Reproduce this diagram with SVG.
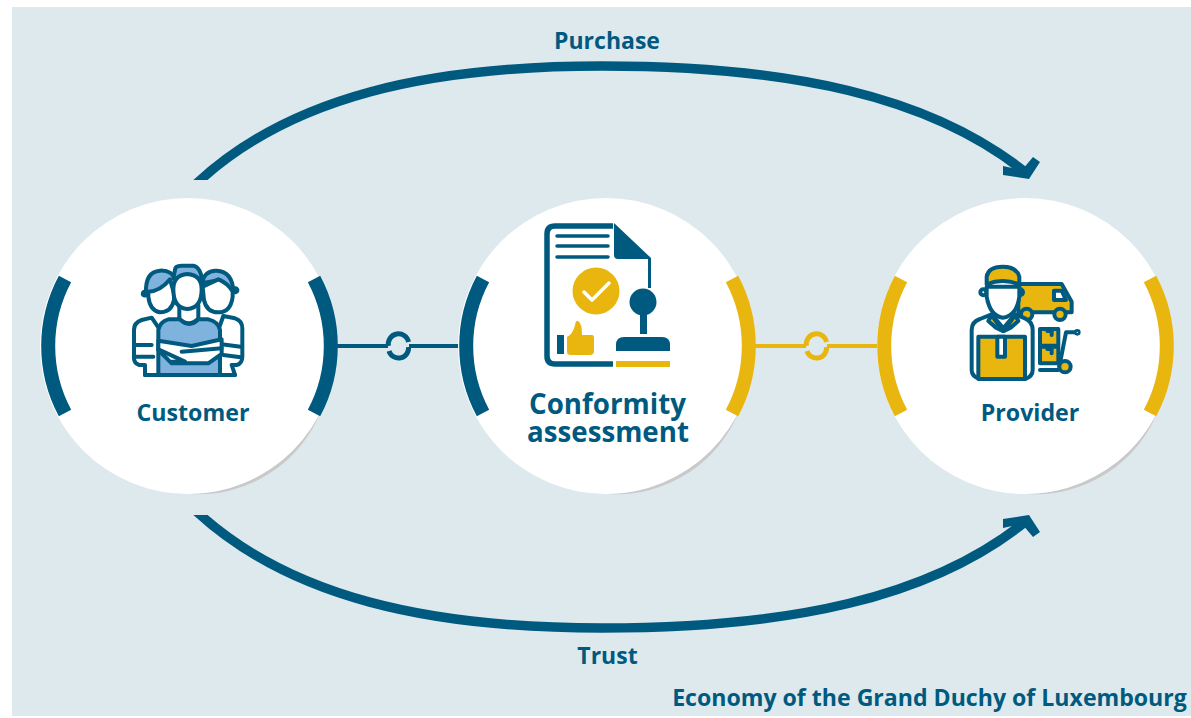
<svg xmlns="http://www.w3.org/2000/svg" width="1191" height="718" viewBox="0 0 1191 718">
<style>
text{font-family:"Open Sans","Noto Sans","Liberation Sans",sans-serif;font-weight:700;fill:#005a7f;text-anchor:middle}
.blue{stroke:#005a7f;fill:none}
.yel{stroke:#e9b60f;fill:none}
.arc{stroke-width:14}
.cn{stroke-width:4}
.ring{stroke-width:5}
.flow{stroke:#005a7f;fill:none;stroke-width:9.500}
.head{fill:#005a7f}
.shade{fill:#c9c9c9}
.ic{stroke:#005a7f;stroke-width:12;stroke-linejoin:round;stroke-linecap:round}
.w{fill:#fff}.lb{fill:#7fb2dd}.y{fill:#e9b60f}.d{fill:#005a7f}.n{fill:none}
</style>
<defs>
<clipPath id="top"><rect x="0" y="0" width="1191" height="180"/></clipPath>
<clipPath id="bot"><rect x="0" y="515" width="1191" height="203"/></clipPath>
</defs>
<rect x="12" y="7" width="1179" height="709" fill="#dee9ee"/>
<g id="connectors">
<path class="flow" clip-path="url(#top)" d="M196 184C290 96 430 66 602 66C790 66 930 96 1025 172"/>
<polygon class="head" points="1003,175 1029,179 1040,162 1033,157 1022,170 1003,166"/>
<path class="flow" clip-path="url(#bot)" d="M196 511C290 598 430 628 602 628C790 628 930 598 1025 522"/>
<polygon class="head" points="1003,519 1029,515 1040,532 1033,537 1022,524 1003,528"/>
<path class="blue cn" d="M336 346H388M409 346H462"/>
<path class="blue ring" d="M388.500 346A10 10 0 0 1 408.500 342"/>
<path class="blue ring" d="M408.500 347A10 10 0 0 1 389 351"/>
<path class="yel cn" d="M754 346H806M827 346H880"/>
<path class="yel ring" d="M806.500 346A10 10 0 0 1 826.500 342"/>
<path class="yel ring" d="M826.500 347A10 10 0 0 1 807 351"/>
</g>
<g id="customer">
<path class="shade" d="M190 494A148 148 0 0 0 322 408.500A132 132 0 0 1 190 494Z"/>
<circle cx="188" cy="346" r="148" fill="#fff"/>
<path class="blue arc" d="M65 279A142 142 0 0 0 65 413M314 279A142 142 0 0 1 314 413"/>
<g class="ic" transform="translate(110 250) scale(.3333)">
<path class="w" d="M105 375V345H88Q72 340 72 325V240Q72 218 95 210L125 203L150 240V375Z"/>
<path class="w" d="M375 375L365 345H380Q397 340 397 320V235Q397 212 375 205L340 198L325 240V375Z"/>
<path class="n" d="M76 285H125M76 320H130M335 283L392 290M340 315L392 322"/>
<path class="w" d="M100 135a6 6 0 1 1 .1 .1ZM372 125a6 6 0 1 1 .1 .1Z"/>
<path class="lb" d="M108 130Q105 65 150 62Q185 60 198 90V125L150 130Z"/>
<path class="w" d="M115 125Q150 125 180 88L192 130V150Q185 187 150 187Q120 182 115 140Z"/>
<path class="lb" d="M275 100Q285 60 320 62Q368 65 370 125L330 90Z"/>
<path class="w" d="M278 110L325 88Q355 100 368 125V140Q362 187 325 187Q290 187 282 150Z"/>
<path class="lb" d="M145 375V240Q150 215 175 208H210Q238 235 265 208H295Q325 215 330 240V375Z"/>
<path class="lb" d="M195 60Q195 47 215 47H250Q275 52 278 105L265 85H190Z"/>
<path class="w" d="M208 165V205Q236 235 265 205V165Z"/>
<path class="w" d="M190 118Q190 75 232 72Q275 75 275 118Q275 175 232 177Q190 175 190 118Z"/>
<path class="w" d="M145 272L245 288L335 268V312L295 340H185L145 300Z"/>
<path class="n" d="M145 298L225 335H185M215 305L335 295M105 375H375"/>
</g>
<text x="193" y="421" font-size="23.200">Customer</text>
</g>
<g id="conformity">
<path class="shade" d="M608 494A148 148 0 0 0 740 408.500A132 132 0 0 1 608 494Z"/>
<circle cx="606" cy="346" r="148" fill="#fff"/>
<path class="blue arc" d="M483 279A142 142 0 0 0 483 413"/>
<path class="yel arc" d="M732 279A142 142 0 0 1 732 413"/>
<g>
<path fill="none" stroke="#005a7f" stroke-width="5.500" d="M613 226H555Q547 226 547 234V356Q547 364 555 364H613"/>
<path class="d" d="M614 223L651 258V288H648V259H618Q614 259 614 255Z"/>
<path fill="none" stroke="#005a7f" stroke-width="3.500" stroke-linecap="round" d="M557 236H608M557 246H608M557 257H608"/>
<circle cx="596" cy="291" r="23.500" class="y"/>
<path d="M584 292L592 300L609 283" fill="none" stroke="#fff" stroke-width="3.500" stroke-linecap="round" stroke-linejoin="round"/>
<rect x="557" y="335" width="7" height="19" class="d"/>
<path class="y" d="M567 337Q573 334 575 325Q576 320 578 321Q582 323 582 335H592Q594 335 594 338V351Q594 355 590 355H571Q567 355 567 352Z"/>
<circle cx="643" cy="302" r="13.500" class="d"/>
<rect x="640" y="312" width="7" height="22" class="d"/>
<path class="d" d="M616 351V345Q616 337 624 337H662Q670 337 670 345V351Z"/>
<rect x="616" y="361" width="54" height="6" class="y"/>
</g>
<text font-size="27.700"><tspan x="607.500" y="414">Conformity</tspan><tspan x="608" y="442">assessment</tspan></text>
</g>
<g id="provider">
<path class="shade" d="M1027 494A148 148 0 0 0 1159 408.500A132 132 0 0 1 1027 494Z"/>
<circle cx="1025" cy="346" r="148" fill="#fff"/>
<path class="yel arc" d="M901 279A142 142 0 0 0 901 413M1150 279A142 142 0 0 1 1150 413"/>
<g class="ic" transform="translate(960 255) scale(.3333)">
<path class="y" d="M175 87H305L335 140V172H175Z"/>
<path class="w" d="M282 107H305L318 135H282Z"/>
<circle cx="200" cy="178" r="17" class="y"/><circle cx="300" cy="178" r="17" class="y"/>
<path class="w" d="M35 345V225Q35 200 60 192L95 178L130 220L165 178L195 190Q218 200 218 225V345Q218 365 195 372H60Q35 365 35 345Z"/>
<path class="y" d="M55 245H195V372H55Z"/>
<path class="w" d="M112 245V305H135V245Z"/>
<path class="y" d="M95 180L128 228L108 218L85 198ZM165 180L132 228L152 218L175 198Z"/>
<circle cx="70" cy="112" r="9" class="w"/><circle cx="180" cy="112" r="9" class="w"/>
<path class="w" d="M80 95V125Q90 183 128 188Q170 183 178 125V95Z"/>
<path class="y" d="M80 88V65Q85 35 128 35Q170 35 178 65V88Q128 68 80 88Z"/>
<path class="y" d="M240 222H295V272H240ZM240 275H295V325H240Z"/>
<path class="n" d="M262 228H275V240M262 282H275V295"/>
<path class="n" d="M240 345H295M298 335L318 232H345"/>
<circle cx="352" cy="232" r="4" class="w"/>
<circle cx="315" cy="335" r="17" class="y"/>
</g>
<text x="1030" y="421" font-size="23.200">Provider</text>
</g>
<text x="607" y="49" font-size="23">Purchase</text>
<text x="607.500" y="664" font-size="23">Trust</text>
<text x="929.500" y="705.500" font-size="23.100">Economy of the Grand Duchy of Luxembourg</text>
</svg>
